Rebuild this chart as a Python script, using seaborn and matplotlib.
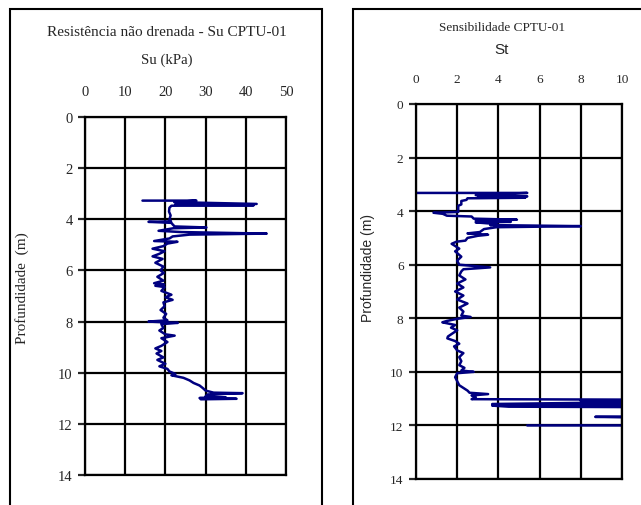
import numpy as np
import pandas as pd
import matplotlib
matplotlib.use("Agg")
import matplotlib.pyplot as plt
from matplotlib.patches import Rectangle
import seaborn as sns

sns.set_style("white")
plt.rcParams['font.family'] = ['Liberation Serif', 'DejaVu Serif']

# Su profile (depth m, Su kPa)
su_depth = [3.27, 3.27, 3.33, 3.40, 3.43, 3.45, 3.47, 3.55, 3.70, 3.85, 4.00, 4.08, 4.10,
            4.14, 4.20, 4.28, 4.32, 4.35, 4.45, 4.50, 4.56, 4.60, 4.67, 4.75, 4.85, 4.88,
            4.95, 5.05, 5.15, 5.25, 5.35, 5.45, 5.55, 5.70, 5.85, 6.00, 6.10, 6.25, 6.40,
            6.50, 6.55, 6.60, 6.65, 6.80, 6.95, 7.05, 7.15, 7.25, 7.40, 7.55, 7.70, 7.85,
            7.95, 8.00, 8.05, 8.10, 8.25, 8.35, 8.50, 8.55, 8.65, 8.80, 8.95, 9.05, 9.15,
            9.25, 9.40, 9.50, 9.65, 9.75, 9.85, 9.95, 10.05, 10.10, 10.20, 10.30, 10.40,
            10.50, 10.60, 10.70, 10.78, 10.80, 10.85, 10.92, 10.96, 10.99, 11.02, 11.04]
su_vals = [14.3, 27.7, 22.2, 42.7, 22.5, 42.0, 21.5, 21.0, 20.9, 21.3, 21.0, 21.4, 15.8,
           21.5, 21.8, 22.3, 30.2, 22.0, 18.3, 24.0, 45.2, 26.0, 21.8, 21.0, 17.2, 23.0,
           20.5, 19.5, 16.8, 19.8, 18.5, 16.8, 19.3, 17.5, 19.5, 18.8, 19.6, 18.0, 19.5,
           17.2, 19.7, 17.5, 19.8, 19.0, 21.5, 20.0, 21.8, 19.5, 19.8, 18.8, 20.2, 19.5,
           20.5, 15.8, 23.1, 19.0, 19.5, 18.5, 20.0, 22.3, 19.0, 20.5, 19.0, 17.5, 19.0,
           17.8, 19.5, 18.0, 20.0, 18.5, 20.5, 21.0, 22.5, 21.5, 24.5, 26.0, 27.0,
           28.5, 29.3, 30.0, 32.0, 39.2, 30.5, 30.0, 35.0, 28.5, 37.7, 28.8]

# St profile (depth m, sensitivity)
st_depth = [3.32, 3.32, 3.40, 3.45, 3.48, 3.50, 3.52, 3.58, 3.62, 3.75, 3.80, 4.03, 4.06,
            4.10, 4.17, 4.20, 4.28, 4.32, 4.36, 4.40, 4.42, 4.48, 4.52, 4.56, 4.60, 4.67,
            4.78, 4.83, 4.88, 4.92, 5.00, 5.10, 5.14, 5.22, 5.30, 5.40, 5.50, 5.70, 5.85,
            6.00, 6.10, 6.17, 6.25, 6.40, 6.55, 6.70, 6.85, 7.00, 7.15, 7.30, 7.45, 7.60,
            7.75, 7.90, 7.95, 8.02, 8.10, 8.15, 8.25, 8.35, 8.45, 8.55, 8.68, 8.75, 8.85,
            8.95, 9.05, 9.20, 9.30, 9.45, 9.60, 9.75, 9.85, 9.95, 10.00, 10.05, 10.20,
            10.35, 10.50, 10.60, 10.70, 10.78, 10.83, 10.88, 10.95, 11.02, 11.04, 11.08,
            11.12, 11.20, 11.24, 11.26, 11.30, 11.32, 11.65, 11.68, 11.72, 12.00, 12.00]
st_vals = [0.0, 5.4, 2.9, 5.4, 3.0, 5.3, 2.5, 2.45, 2.2, 2.2, 2.05, 2.05, 0.85,
           1.3, 1.5, 2.7, 2.8, 4.9, 2.9, 4.6, 2.9, 3.9, 3.6, 8.0, 3.9, 3.3,
           3.1, 2.5, 3.5, 3.0, 2.5, 2.4, 1.97, 1.73, 1.9, 2.1, 1.9, 2.2, 2.0,
           2.1, 3.6, 2.3, 2.2, 2.1, 2.4, 2.0, 2.3, 1.9, 2.3, 2.0, 2.5, 2.1,
           2.3, 2.2, 2.65, 2.0, 1.5, 1.28, 1.9, 1.7, 2.0, 1.8, 1.55, 1.52, 1.9,
           2.1, 1.85, 2.0, 2.3, 2.1, 2.2, 2.1, 2.35, 2.2, 2.8, 2.0, 1.9,
           2.0, 2.1, 2.3, 2.5, 2.6, 3.5, 2.7, 2.9, 2.7, 12.0, 8.0,
           12.0, 3.7, 12.0, 3.7, 4.5, 12.0, 12.0, 8.7, 12.0, 12.0, 5.4]

su_df = pd.DataFrame({"Su": su_vals, "Prof": su_depth})
st_df = pd.DataFrame({"St": st_vals, "Prof": st_depth})

W, H = 641, 506
fig = plt.figure(figsize=(W / 100, H / 100), dpi=100)

# outer frames around each panel
fig.add_artist(Rectangle((10 / W, -0.1), 312 / W, 1.1 - 10 / H, transform=fig.transFigure,
                         fill=False, ec="black", lw=1.5))
fig.add_artist(Rectangle((353 / W, -0.1), 0.6, 1.1 - 10 / H, transform=fig.transFigure,
                         fill=False, ec="black", lw=1.5))

ax1 = fig.add_axes([85 / W, 1 - 476 / H, 201 / W, 358 / H])
ax2 = fig.add_axes([416 / W, 1 - 480 / H, 206 / W, 375 / H])

line_color = "#000080"
sns.lineplot(data=su_df, x="Su", y="Prof", sort=False, estimator=None,
             color=line_color, lw=1.8, ax=ax1)
sns.lineplot(data=st_df, x="St", y="Prof", sort=False, estimator=None,
             color=line_color, lw=1.8, ax=ax2)

ax1.set_xlim(0, 50)
ax1.set_xticks(range(0, 51, 10))
ax2.set_xlim(0, 10)
ax2.set_xticks(range(0, 11, 2))

for ax, fs in [(ax1, 10.5), (ax2, 9.5)]:
    ax.set_ylim(14, 0)
    ax.set_yticks(range(0, 15, 2))
    ax.xaxis.tick_top()
    ax.grid(True, color="black", lw=1.6)
    ax.set_axisbelow(True)
    for s in ax.spines.values():
        s.set_color("black")
        s.set_linewidth(1.6)
    ax.tick_params(axis="x", length=0, pad=14, labelsize=fs)
    ax.tick_params(axis="y", left=True, length=5, width=1.6, pad=4, labelsize=fs)
    ax.set_xlabel("")
    ax.set_ylabel("")

fig.text(167 / W, 1 - 32 / H, "Resistência não drenada - Su CPTU-01",
         ha="center", va="center", fontsize=11)
fig.text(167 / W, 1 - 60 / H, "Su (kPa)", ha="center", va="center", fontsize=10.7)
fig.text(22 / W, 1 - 288 / H, "Profundidade  (m)", ha="center", va="center",
         rotation=90, fontsize=11)

fig.text(502 / W, 1 - 28 / H, "Sensibilidade CPTU-01", ha="center", va="center", fontsize=9.5)
fig.text(502 / W, 1 - 50 / H, "St", ha="center", va="center", fontsize=11,
         family=["Liberation Sans", "DejaVu Sans"])
fig.text(368 / W, 1 - 268 / H, "Profundidade (m)", ha="center", va="center",
         rotation=90, fontsize=10, family=["Liberation Sans", "DejaVu Sans"])

fig.savefig("out.png", dpi=100)
